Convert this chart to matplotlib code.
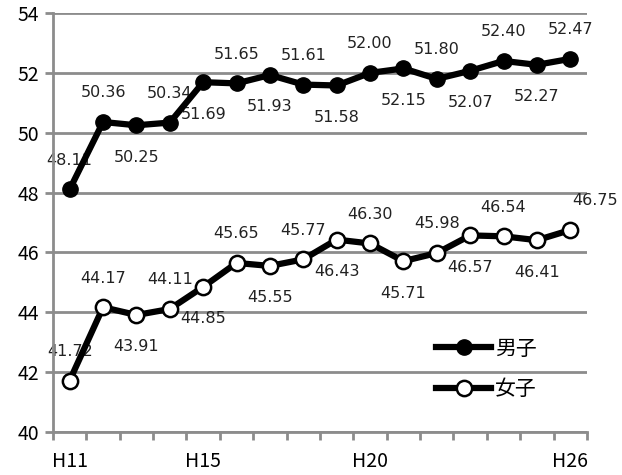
import numpy as np
import matplotlib.pyplot as plt

plt.rcParams["font.family"] = ["Noto Sans CJK JP", "DejaVu Sans"]

# データ
years = ["H11", "H12", "H13", "H14", "H15", "H16", "H17", "H18",
         "H19", "H20", "H21", "H22", "H23", "H24", "H25", "H26"]
boys = [48.11, 50.36, 50.25, 50.34, 51.69, 51.65, 51.93, 51.61,
        51.58, 52.00, 52.15, 51.80, 52.07, 52.40, 52.27, 52.47]
girls = [41.72, 44.17, 43.91, 44.11, 44.85, 45.65, 45.55, 45.77,
         46.43, 46.30, 45.71, 45.98, 46.57, 46.54, 46.41, 46.75]
shown_years = ["H11", "H15", "H20", "H26"]

grid_color = "#8c8c8c"

fig = plt.figure(figsize=(6.22, 4.75), dpi=100)
ax = fig.add_axes([0.0852, 0.0905, 0.8585, 0.882])

x = np.arange(len(years))
ax.plot(x, boys, color="black", lw=4.5, marker="o", ms=11,
        mfc="black", mec="black", label="男子", zorder=3)
ax.plot(x, girls, color="black", lw=4.5, marker="o", ms=11,
        mfc="white", mec="black", mew=1.8, label="女子", zorder=3)

# データラベル（上下交互）
for series in (boys, girls):
    for i, v in enumerate(series):
        above = (i % 2 == 1) or i == 0
        dy = 21 if above else -23
        dx = 0
        if series is girls and i == len(series) - 1:
            dx = 18
        ax.annotate(f"{v:.2f}", (i, v), xytext=(dx, dy), textcoords="offset points",
                    ha="center", va="center", fontsize=11.5, color="#222222",
                    family="DejaVu Sans", zorder=2)

ax.set_xlim(-0.5, len(years) - 0.5)
ax.set_ylim(40, 54)
ax.set_yticks(np.arange(40, 55, 2))
ax.yaxis.grid(True, color=grid_color, lw=2)
ax.set_axisbelow(True)

ax.set_xticks([years.index(y) for y in shown_years])
ax.set_xticklabels(shown_years)
ax.set_xticks(np.arange(-0.5, len(years)), minor=True)
ax.tick_params(axis="x", which="major", length=0, pad=14, labelsize=14)
ax.tick_params(axis="x", which="minor", length=6, width=2, color=grid_color, direction="out")
ax.tick_params(axis="y", length=6, width=2, color=grid_color, labelsize=14, pad=4)

for s in ("top", "right"):
    ax.spines[s].set_visible(False)
for s in ("left", "bottom"):
    ax.spines[s].set_color(grid_color)
    ax.spines[s].set_linewidth(2)

ax.legend(loc="upper left", bbox_to_anchor=(0.683, 0.27), frameon=False,
          fontsize=15, handlelength=2.6, labelspacing=0.9, handletextpad=0.2)

fig.savefig("out.png", dpi=100)
